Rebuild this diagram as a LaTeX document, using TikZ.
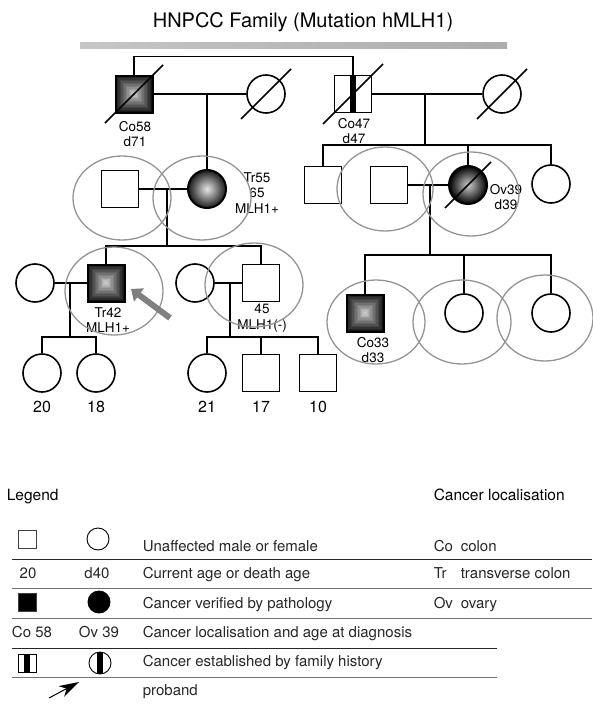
\documentclass[tikz,border=0pt]{standalone}
\usepackage{fontspec}
\setmainfont{TeX Gyre Heros}
\usetikzlibrary{arrows.meta,shapes.geometric}

\begin{document}
\begin{tikzpicture}[x=1pt,y=-1pt,line width=1.6pt]
    \tikzstyle{male}=[rectangle,draw=black,fill=white,minimum size=37pt,inner sep=0pt]
    \tikzstyle{female}=[circle,draw=black,fill=white,minimum size=38pt,inner sep=0pt]
    \tikzstyle{sqcancer}=[line width=2pt,path picture={
        \foreach \k [evaluate=\k as \c using 92-6*\k] in {0,...,12}
            \fill[black!\c] ([shift={(\k*1.45pt,-\k*1.45pt)}]path picture bounding box.north west)
                rectangle ([shift={(-\k*1.45pt,\k*1.45pt)}]path picture bounding box.south east);}]
    \tikzstyle{cicancer}=[line width=2pt,inner color=gray!20,outer color=black!90]
    \tikzstyle{history}=[path picture={\fill[black] ([xshift=-2.6pt]path picture bounding box.north)
        rectangle ([xshift=2.6pt]path picture bounding box.south);}]
    \tikzstyle{halo}=[ellipse,draw=black!42,line width=1.3pt,inner sep=0pt]
    \tikzstyle{lab}=[font=\fontsize{13.5}{15.5}\selectfont,align=center,inner sep=0pt]
    \tikzstyle{age}=[font=\fontsize{16}{18}\selectfont,inner sep=0pt]
    \tikzstyle{key}=[font=\fontsize{15}{17}\selectfont,inner sep=0pt,anchor=base west,text=black!85]
    \tikzstyle{keyc}=[font=\fontsize{15}{17}\selectfont,inner sep=0pt,anchor=base,text=black!85]
    \tikzstyle{ksq}=[rectangle,draw=black!75,line width=0.9pt,minimum size=18pt,inner sep=0pt]
    \tikzstyle{kci}=[circle,draw=black,line width=0.9pt,minimum size=22pt,inner sep=0pt]

    \useasboundingbox (0,0) rectangle (592,704);

    % title
    \node[font=\fontsize{20}{24}\selectfont,inner sep=0pt] (title) at (303,22) {HNPCC Family (Mutation hMLH1)};
    \shade[left color=gray!45,right color=gray!65] (80,42) rectangle (507,48);

    % generation I
    \node[male,sqcancer] (I-1) at (134,94){};
    \node[female] (I-2) at (266,94){};
    \node[male,history] (I-3) at (353,94){};
    \node[female] (I-4) at (502,94){};

    % generation II
    \node[male] (II-1) at (120,189){};
    \node[female,cicancer] (II-2) at (207,189){};
    \node[male] (II-3) at (323,185){};
    \node[male] (II-4) at (389,185){};
    \node[female,cicancer,inner color=gray!40,outer color=black] (II-5) at (468,185){};
    \node[female] (II-6) at (551,184){};

    % generation III
    \node[female] (III-1) at (35,283){};
    \node[male,sqcancer] (III-2) at (106,283){};
    \node[female] (III-3) at (195,283){};
    \node[male] (III-4) at (261,283){};
    \node[male,sqcancer] (III-5) at (365,313){};
    \node[female] (III-6) at (464,313){};
    \node[female] (III-7) at (551,313){};

    % generation IV
    \node[female] (IV-1) at (42,373){};
    \node[female] (IV-2) at (96,373){};
    \node[female] (IV-3) at (207,373){};
    \node[male] (IV-4) at (261,373){};
    \node[male] (IV-5) at (318,373){};

    \coordinate (m-1) at (207,94);
    \coordinate (m-2) at (425,94);  \coordinate (s-2) at (425,145);
    \coordinate (m-3) at (167,189); \coordinate (s-3) at (167,246);
    \coordinate (m-4) at (430,185); \coordinate (s-4) at (430,255);
    \coordinate (m-5) at (70,283);  \coordinate (s-5) at (70,337);
    \coordinate (m-6) at (230,283); \coordinate (s-6) at (230,337);

    \draw (I-1.north) -- ++(0,-18) -| (I-3.north);
    \foreach \from/\to in {I-1/I-2, I-3/I-4, II-1/II-2, II-4/II-5, III-1/III-2, III-3/III-4}
        \draw (\from.east) -- (\to.west);
    \draw (m-1) -- (II-2.north);
    \foreach \m/\s in {m-2/s-2, m-3/s-3, m-4/s-4, m-5/s-5, m-6/s-6}
        \draw (\m) -- (\s);
    \foreach \s/\c in {s-2/II-3, s-2/II-5, s-2/II-6, s-3/III-2, s-3/III-4, s-4/III-5, s-4/III-6,
                       s-4/III-7, s-5/IV-1, s-5/IV-2, s-6/IV-3, s-6/IV-4, s-6/IV-5}
        \draw (\s) -| (\c.north);

    % deceased
    \foreach \n/\r in {I-1/29, I-2/25, I-3/30, I-4/25, II-5/23}
        \draw ([shift={(-\r,\r)}]\n.center) -- ([shift={(\r,-\r)}]\n.center);

    \node[lab] (L-I-1) at (135,134) {Co58\\d71};
    \node[lab] (L-I-3) at (354,131) {Co47\\d47};
    \node[lab] (L-II-2) at (257,193) {Tr55\\65\\MLH1+};
    \node[lab] (L-II-5) at (506,197) {Ov39\\d39};
    \node[lab] (L-III-2) at (108,320) {Tr42\\MLH1+};
    \node[lab] (L-III-4) at (262,318) {45\\MLH1(-)};
    \node[lab] (L-III-5) at (373,350) {Co33\\d33};

    \foreach \n/\a in {IV-1/20, IV-2/18, IV-3/21, IV-4/17, IV-5/10}
        \node[age] (A-\n) at ([yshift=-34pt]\n.center) {\a};

    \foreach \x/\y/\w/\h [count=\i] in {122/198/98/84, 202/198/98/84, 385/189/96/84, 471/194/96/84,
        114/291/98/88, 254/285/98/84, 376/322/98/84, 462/322/98/84, 545/318/96/86}
        \node[halo,minimum width=\w,minimum height=\h] (H-\i) at (\x,\y){};

    \coordinate (P-tail) at (170,318);
    \coordinate (P-head) at (131,289);
    \draw[black!50,line width=6pt,-{Triangle[length=10pt,width=16pt]}] (P-tail) -- (P-head);

    % legend
    \node[key,text=black,font=\fontsize{15.5}{17}\selectfont] (legend) at (6,500) {Legend};
    \node[key,text=black,font=\fontsize{15.5}{17}\selectfont] (loc) at (433,500) {Cancer localisation};

    \node[ksq] (K-1) at (27,539){};
    \node[kci] (K-2) at (98,539){};
    \node[keyc] (K-3) at (28,578) {20};
    \node[keyc] (K-4) at (97,578) {d40};
    \node[ksq,fill=black] (K-5) at (27,602){};
    \node[kci,fill=black] (K-6) at (99,602){};
    \node[keyc] (K-7) at (32,637) {Co 58};
    \node[keyc] (K-8) at (99,637) {Ov 39};
    \node[ksq,history,draw=black] (K-9) at (27,663){};
    \node[kci,history] (K-10) at (100,663){};
    \coordinate (K-a1) at (49,698);
    \coordinate (K-a2) at (79,682);
    \draw[line width=1pt,-{Stealth[length=20pt,width=12pt,inset=6pt]}] (K-a1) -- (K-a2);

    \node[key] (T-1) at (142,551) {Unaffected male or female};
    \node[key] (T-2) at (142,578) {Current age or death age};
    \node[key] (T-3) at (142,608) {Cancer verified by pathology};
    \node[key] (T-4) at (142,637) {Cancer localisation and age at diagnosis};
    \node[key] (T-5) at (142,666) {Cancer established by family history};
    \node[key] (T-6) at (142,695) {proband};

    \node[key] (C-1) at (433,551) {Co};
    \node[key] (C-2) at (460,551) {colon};
    \node[key] (C-3) at (433,578) {Tr};
    \node[key] (C-4) at (460,578) {transverse colon};
    \node[key] (C-5) at (433,608) {Ov};
    \node[key] (C-6) at (460,608) {ovary};

    \foreach \y/\c/\r in {559/85/592, 588/55/592, 618/55/592, 648/85/497, 677/55/497}
        \draw[black!\c,line width=0.9pt] (12,\y) -- (\r,\y);
\end{tikzpicture}
\end{document}
